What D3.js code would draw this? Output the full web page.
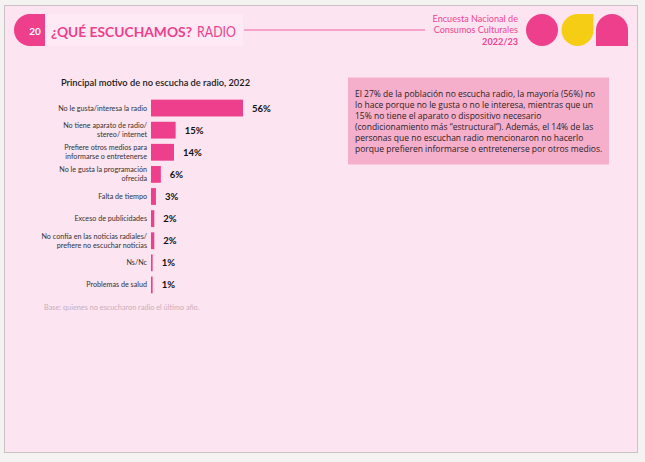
<!DOCTYPE html>
<html>
<head>
<meta charset="utf-8">
<script src="https://cdn.jsdelivr.net/npm/d3@7"></script>
<style>
  body { margin: 0; background: #f4f3f1; }
  svg { display: block; font-family: Lato, "Open Sans", sans-serif; }
</style>
</head>
<body>
<div id="chart"></div>
<script>
const categories = [
  ['No le gusta/interesa la radio'],
  ['No tiene aparato de radio/', 'stereo/ internet'],
  ['Prefiere otros medios para', 'informarse o entretenerse'],
  ['No le gusta la programación', 'ofrecida'],
  ['Falta de tiempo'],
  ['Exceso de publicidades'],
  ['No confía en las noticias radiales/', 'prefiere no escuchar noticias'],
  ['Ns/Nc'],
  ['Problemas de salud']
];
const values = [56, 15, 14, 6, 3, 2, 2, 1, 1];
const noteLines = [
  'El 27% de la población no escucha radio, la mayoría (56%) no',
  'lo hace porque no le gusta o no le interesa, mientras que un',
  '15% no tiene el aparato o dispositivo necesario',
  '(condicionamiento más “estructural”). Además, el 14% de las',
  'personas que no escuchan radio mencionaron no hacerlo',
  'porque prefieren informarse o entretenerse por otros medios.'
];
const headerRight = ['Encuesta Nacional de', 'Consumos Culturales', '2022/23'];

const width = 645;
const height = 462;
const pink = '#ee3f8c';

const svg = d3.select('#chart').append('svg')
    .attr('width', width)
    .attr('height', height);

// page panel
svg.append('rect')
    .attr('x', 4.5).attr('y', 5.5)
    .attr('width', 633).attr('height', 447)
    .attr('fill', '#fce4f1')
    .attr('stroke', '#c9c1c5');

// header tab
svg.append('path')
    .attr('d', 'M45,14 H30 A16,16 0 0 0 30,46 H45 Z')
    .attr('fill', pink);
svg.append('text')
    .attr('x', 35).attr('y', 35)
    .attr('text-anchor', 'middle')
    .attr('fill', 'white')
    .attr('font-size', 10).attr('font-weight', 700)
    .text('20');
svg.append('rect')
    .attr('x', 45).attr('y', 14)
    .attr('width', 198).attr('height', 32)
    .attr('fill', '#fdeaf4');
svg.append('text')
    .attr('x', 51).attr('y', 36.5)
    .attr('fill', pink)
    .attr('font-size', 14).attr('font-weight', 700)
    .attr('textLength', 141)
    .attr('lengthAdjust', 'spacingAndGlyphs')
    .text('¿QUÉ ESCUCHAMOS?');
svg.append('text')
    .attr('x', 197).attr('y', 36.5)
    .attr('fill', pink)
    .attr('font-size', 14.5)
    .attr('textLength', 39)
    .attr('lengthAdjust', 'spacingAndGlyphs')
    .text('RADIO');

svg.append('line')
    .attr('x1', 244).attr('x2', 425)
    .attr('y1', 30).attr('y2', 30)
    .attr('stroke', '#f062a6');

svg.selectAll('.hdr')
    .data(headerRight)
    .join('text')
    .attr('x', 518)
    .attr('y', (d, i) => 22 + i * 11.3)
    .attr('text-anchor', 'end')
    .attr('fill', '#ee4592')
    .attr('font-size', 9.1)
    .attr('font-weight', (d, i) => i === 2 ? 700 : 400)
    .text(d => d);

// logo
svg.append('circle').attr('cx', 542).attr('cy', 30).attr('r', 16).attr('fill', pink);
svg.append('path')
    .attr('d', 'M593.5,14 V30 A16,16 0 1 1 577.5,14 Z')
    .attr('fill', '#f6cd15');
svg.append('path')
    .attr('d', 'M596,46 V30 A16,16 0 0 1 628,30 V46 Z')
    .attr('fill', pink);

// chart
svg.append('text')
    .attr('x', 61).attr('y', 86)
    .attr('fill', '#1a1a1a')
    .attr('font-size', 9.3).attr('font-weight', 600)
    .text('Principal motivo de no escucha de radio, 2022');

const x = d3.scaleLinear()
    .domain([0, 56])
    .range([151, 243]);

const y = d3.scaleBand()
    .domain(d3.range(values.length))
    .range([97, 296])
    .paddingInner(0.24)
    .paddingOuter(0.12);

const rows = svg.selectAll('.row')
    .data(values)
    .join('g');

rows.append('rect')
    .attr('x', x(0))
    .attr('y', (d, i) => y(i))
    .attr('width', d => x(d) - x(0))
    .attr('height', y.bandwidth())
    .attr('fill', pink);

rows.append('text')
    .attr('x', d => x(d) + 9)
    .attr('y', (d, i) => y(i) + y.bandwidth() / 2 + 3.5)
    .attr('fill', '#111')
    .attr('font-size', 9.5).attr('font-weight', 700)
    .text(d => d + '%');

rows.each(function(d, i) {
    const lines = categories[i];
    const cy = y(i) + y.bandwidth() / 2;
    d3.select(this).selectAll('.lab')
        .data(lines)
        .join('text')
        .attr('x', 147)
        .attr('y', (l, j) => cy + 2.5 + (j - (lines.length - 1) / 2) * 9)
        .attr('text-anchor', 'end')
        .attr('fill', '#333')
        .attr('font-size', 7.2)
        .text(l => l);
});

svg.append('text')
    .attr('x', 44).attr('y', 310)
    .attr('fill', '#c9aebd')
    .attr('font-size', 7.3)
    .text('Base: quienes no escucharon radio el último año.');

// note box
svg.append('rect')
    .attr('x', 348).attr('y', 77.5)
    .attr('width', 261).attr('height', 87)
    .attr('fill', '#f6afca');
svg.selectAll('.note')
    .data(noteLines)
    .join('text')
    .attr('x', 355)
    .attr('y', (d, i) => 97 + i * 10.9)
    .attr('fill', '#2a2226')
    .attr('font-family', '"Open Sans", sans-serif')
    .attr('font-size', 8.5)
    .text(d => d);
</script>
</body>
</html>
